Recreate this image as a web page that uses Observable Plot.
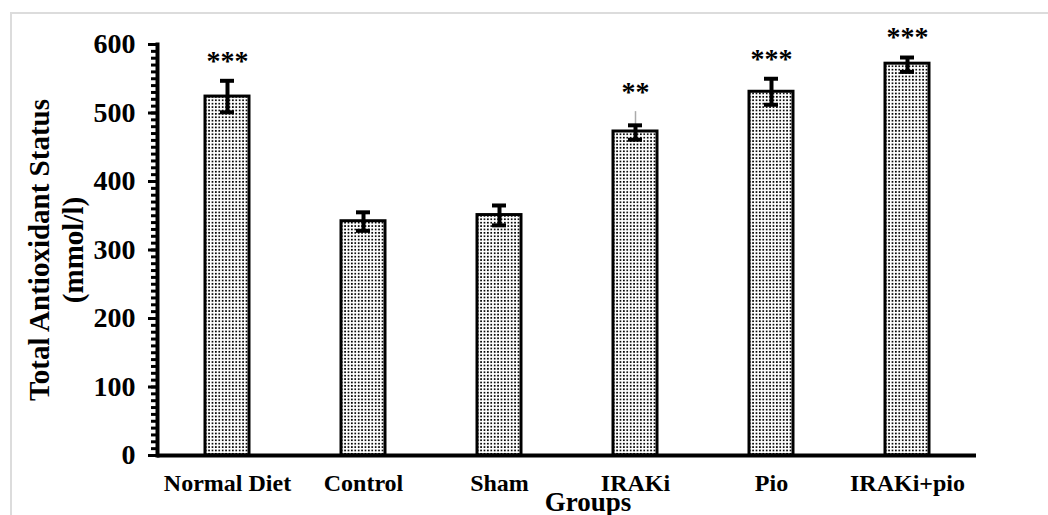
<!DOCTYPE html>
<html>
<head>
<meta charset="utf-8">
<script src="https://cdn.jsdelivr.net/npm/d3@7"></script>
<script src="https://cdn.jsdelivr.net/npm/@observablehq/plot@0.6"></script>
<style>
  html, body { margin: 0; padding: 0; background: #fff; overflow: hidden; }
  #wrap { position: relative; width: 1048px; height: 515px; }
  #border { position: absolute; left: 10px; top: 12px; width: 1100px; height: 600px; border: 2px solid #dcdcdc; box-sizing: border-box; pointer-events: none; }
  #chart { position: absolute; left: 0; top: 0; }
</style>
</head>
<body>
<div id="wrap"><div id="border"></div><div id="chart"></div></div>
<script>
const groups = ["Normal Diet", "Control", "Sham", "IRAKi", "Pio", "IRAKi+pio"];
const means = [524, 342, 351, 473, 531, 572];
const errLow = [501, 328, 336, 461, 512, 560];
const errHigh = [547, 355, 365, 482, 550, 581];
const stars = ["***", "", "", "**", "***", "***"];
const extraGroups = ["IRAKi"];
const extraLow = [473];
const extraHigh = [502];
const yTicks = [0, 100, 200, 300, 400, 500, 600];
const yMinorTicks = d3.range(0, 601, 10);
const yTitle = "Total Antioxidant Status\n(mmol/l)";
const xTitle = "Groups";

const data = groups.map((g, i) => ({
  g, m: means[i], lo: errLow[i], hi: errHigh[i], star: stars[i],
  top: Math.max(errHigh[i], extraGroups.includes(g) ? extraHigh[extraGroups.indexOf(g)] : 0)
}));
const extra = extraGroups.map((g, i) => ({g, lo: extraLow[i], hi: extraHigh[i]}));

const svg = Plot.plot({
  width: 1048,
  height: 515,
  marginLeft: 157,
  marginRight: 72,
  marginTop: 44,
  marginBottom: 60,
  style: {fontFamily: "'Liberation Serif', 'Times New Roman', serif", fontWeight: "bold", color: "black", background: "transparent", overflow: "visible"},
  x: {domain: groups, paddingInner: 0.68, paddingOuter: 0.34, label: null},
  y: {domain: [0, 600], label: null},
  marks: [
    Plot.barY(data, {x: "g", y: "m", fill: "url(#dots)", stroke: "black", strokeWidth: 3}),
    Plot.ruleX(extra, {x: "g", y1: "lo", y2: "hi", stroke: "#aaaaaa", strokeWidth: 1.5}),
    Plot.ruleX(data, {x: "g", y1: "lo", y2: "hi", stroke: "black", strokeWidth: 4}),
    Plot.tickY(data, {x: "g", y: "lo", stroke: "black", strokeWidth: 4, insetLeft: 15, insetRight: 15}),
    Plot.tickY(data, {x: "g", y: "hi", stroke: "black", strokeWidth: 4, insetLeft: 15, insetRight: 15}),
    Plot.text(data, {x: "g", y: "top", text: "star", dy: -20, fontSize: 28, fontWeight: "bold", letterSpacing: 1}),
    Plot.axisY({ticks: yMinorTicks, tickSize: 6, strokeWidth: 3, tickFormat: () => ""}),
    Plot.axisY({ticks: yTicks, tickSize: 9, tickPadding: 13, strokeWidth: 3, fontSize: 28, fontWeight: "bold", label: null}),
    Plot.axisX({tickSize: 0, tickPadding: 18, fontSize: 24, fontWeight: "bold", label: null}),
    Plot.frame({anchor: "left", strokeWidth: 4, stroke: "black"}),
    Plot.ruleY([0], {strokeWidth: 4, stroke: "black"}),
    Plot.text([yTitle], {frameAnchor: "left", rotate: -90, dx: -102, fontSize: 29, fontWeight: "bold", textAnchor: "middle", lineAnchor: "middle", lineHeight: 1.17}),
    Plot.text([xTitle], {frameAnchor: "bottom", dx: 21, dy: 55, fontSize: 27, fontWeight: "bold"})
  ]
});

const defs = d3.select(svg).insert("defs", ":first-child");
const pat = defs.append("pattern")
  .attr("id", "dots").attr("patternUnits", "userSpaceOnUse")
  .attr("width", 3.4).attr("height", 3.4);
pat.append("rect").attr("width", 3.4).attr("height", 3.4).attr("fill", "white");
pat.append("rect").attr("x", 0.8).attr("y", 0.8).attr("width", 1.7).attr("height", 1.7).attr("fill", "black");

document.getElementById("chart").appendChild(svg);
</script>
</body>
</html>
